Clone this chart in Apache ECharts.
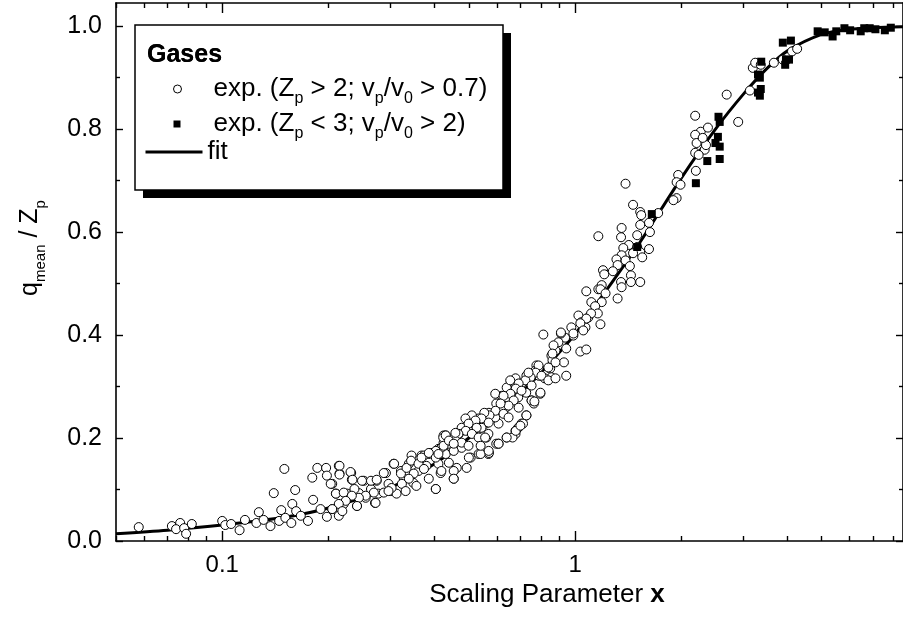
<!DOCTYPE html>
<html>
<head>
<meta charset="utf-8">
<script src="https://cdn.jsdelivr.net/npm/echarts@6/dist/echarts.min.js"></script>
<style>
html,body{margin:0;padding:0;background:#fff;}
#chart{width:903px;height:619px;}
</style>
</head>
<body>
<div id="chart"></div>
<script>
// ---- Data ----
const openCircles = [
[0.058,0.027],[0.072,0.029],[0.076,0.035],[0.074,0.023],[0.078,0.025],[0.079,0.014],[0.082,0.033],[0.100,0.039],[0.102,0.031],[0.106,0.033],
[0.112,0.021],[0.116,0.041],[0.125,0.035],[0.127,0.056],[0.131,0.041],[0.137,0.029],[0.140,0.093],[0.145,0.039],[0.147,0.060],[0.150,0.140],
[0.151,0.045],[0.157,0.035],[0.158,0.072],[0.161,0.099],[0.162,0.058],[0.167,0.049],[0.175,0.039],[0.180,0.123],[0.181,0.080],[0.186,0.142],
[0.190,0.062],[0.197,0.142],[0.198,0.127],[0.198,0.047],[0.205,0.111],[0.205,0.062],[0.210,0.092],[0.214,0.146],[0.215,0.131],[0.214,0.049],
[0.221,0.072],[0.226,0.092],[0.232,0.132],[0.233,0.119],[0.241,0.068],[0.244,0.093],[0.252,0.117],[0.255,0.084],[0.264,0.101],[0.271,0.074],
[0.274,0.117],[0.277,0.092],[0.291,0.132],[0.296,0.111],[0.300,0.097],[0.306,0.150],[0.312,0.092],[0.321,0.136],[0.327,0.121],[0.338,0.150],
[0.344,0.166],[0.348,0.113],[0.360,0.136],[0.367,0.166],[0.379,0.146],[0.390,0.171],[0.403,0.101],[0.410,0.150],[0.416,0.132],[0.424,0.205],
[0.430,0.169],[0.444,0.189],[0.453,0.121],[0.462,0.142],[0.468,0.210],[0.477,0.181],[0.493,0.142],[0.500,0.220],[0.506,0.162],[0.533,0.169],
[0.540,0.220],[0.561,0.201],[0.568,0.169],[0.598,0.189],[0.607,0.228],[0.640,0.201],[0.678,0.214],[0.705,0.228],
[1.076,0.485],[1.112,0.464],[1.164,0.489],[1.022,0.438],[1.042,0.425],[1.070,0.415],[1.090,0.434],[0.976,0.415],[0.989,0.399],[0.937,0.395],
[0.912,0.403],[0.813,0.401],[0.897,0.386],[0.944,0.374],[1.035,0.368],[1.076,0.372],[0.880,0.370],[0.857,0.360],[0.930,0.347],[0.944,0.321],
[0.863,0.351],[0.850,0.335],[0.857,0.318],[0.820,0.316],[0.777,0.341],[0.764,0.327],[0.789,0.321],[0.750,0.318],[0.797,0.286],[0.753,0.273],
[0.764,0.267],[0.728,0.244],[0.712,0.228],[0.690,0.220],[0.678,0.208],[0.665,0.201],[0.607,0.189],[0.570,0.171],[0.540,0.169],[0.500,0.162],
[0.705,0.306],[0.727,0.288],[0.678,0.302],[0.690,0.279],[0.660,0.286],[0.640,0.279],[0.636,0.259],[0.616,0.257],[0.598,0.267],[0.594,0.240],
[0.570,0.249],[0.558,0.228],[0.568,0.208],[0.543,0.220],[0.533,0.238],[0.510,0.244],[0.503,0.228],[0.500,0.214],[0.489,0.238],[0.477,0.220],
[0.468,0.208],[0.458,0.191],[0.448,0.181],[0.430,0.205],[0.424,0.191],[0.410,0.179],[0.397,0.171],[0.385,0.169],[0.373,0.166],[0.640,0.298],
[0.620,0.282],[0.594,0.286],[0.678,0.316],[0.655,0.312],[0.728,0.321],[0.772,0.331],[0.789,0.337],
[0.869,0.380],[0.863,0.364],[0.880,0.347],[0.840,0.337],[0.788,0.341],[0.773,0.327],[0.803,0.321],[0.748,0.318],[0.723,0.312],[0.738,0.327],
[0.692,0.306],[0.679,0.296],[0.705,0.292],[0.753,0.302],[0.798,0.288],[0.840,0.312],[0.880,0.316],[0.656,0.286],[0.627,0.282],[0.670,0.273],
[0.692,0.259],[0.648,0.263],[0.615,0.267],[0.595,0.253],[0.627,0.247],[0.648,0.240],[0.572,0.244],[0.553,0.249],[0.543,0.238],[0.569,0.230],
[0.522,0.234],[0.499,0.228],[0.526,0.220],[0.490,0.214],[0.510,0.208],[0.533,0.201],[0.556,0.201],[0.467,0.208],[0.458,0.195],[0.477,0.191],
[0.439,0.189],[0.423,0.201],[0.418,0.181],[0.403,0.175],[0.453,0.175],[0.499,0.185],[0.540,0.185],[0.569,0.175],[0.607,0.189],[0.640,0.201],
[0.679,0.214],[0.700,0.224],[0.728,0.244],[0.753,0.273],[0.767,0.271],
[0.215,0.146],[0.215,0.129],[0.231,0.134],[0.234,0.119],[0.203,0.111],[0.210,0.092],[0.221,0.094],[0.237,0.101],[0.249,0.117],[0.264,0.117],
[0.274,0.119],[0.287,0.132],[0.307,0.150],[0.321,0.131],[0.333,0.142],[0.343,0.156],[0.360,0.150],[0.367,0.162],[0.385,0.171],[0.403,0.162],
[0.410,0.169],[0.424,0.185],[0.430,0.205],[0.439,0.195],[0.453,0.189],[0.458,0.210],[0.439,0.152],[0.418,0.136],[0.453,0.136],[0.453,0.121],
[0.403,0.101],[0.349,0.131],[0.338,0.121],[0.323,0.111],[0.302,0.103],[0.287,0.094],[0.269,0.094],[0.255,0.088],[0.244,0.084],[0.233,0.088],
[0.224,0.078],[0.214,0.072],[0.205,0.062],[0.219,0.058],[0.241,0.068],[0.272,0.074],[0.296,0.097],[0.355,0.107],[0.385,0.121],[0.373,0.140],
[0.331,0.097],
[2.19,0.826],[2.90,0.814],[2.27,0.795],[2.38,0.803],[2.19,0.789],[2.21,0.773],[2.33,0.760],[2.19,0.754],[2.24,0.750],[2.35,0.769],
[2.20,0.719],[1.96,0.711],[1.94,0.697],[1.99,0.692],[1.94,0.666],[1.90,0.662],[1.39,0.694],[1.46,0.653],[1.53,0.639],[1.54,0.633],
[1.72,0.637],[1.62,0.618],[1.53,0.614],[1.63,0.600],[1.355,0.608],[1.35,0.590],[1.50,0.594],[1.164,0.592],[1.42,0.575],[1.50,0.571],
[1.62,0.567],[1.37,0.569],[1.355,0.555],[1.53,0.561],[1.46,0.559],[1.55,0.551],[1.39,0.545],[1.31,0.547],[1.32,0.536],[1.43,0.534],
[1.28,0.524],[1.20,0.526],[1.21,0.518],[1.44,0.516],[1.44,0.503],[1.53,0.503],[1.35,0.503],[1.355,0.493],[1.19,0.497],[1.18,0.489],
[1.22,0.481],[1.32,0.471],[1.19,0.464],[1.14,0.456],[1.16,0.442],[1.11,0.442],[1.076,0.432],[1.18,0.421],[1.035,0.423],[1.055,0.409],
[0.912,0.405],[0.989,0.403],
[2.69,0.867],[3.13,0.875],[3.19,0.919],[3.24,0.929],[3.36,0.925],[3.66,0.929],[3.88,0.935],[4.12,0.951],[4.26,0.956],[2.30,0.783]
];
const filledSquares = [
[2.55,0.824],[2.57,0.814],[2.54,0.785],[2.50,0.773],[2.57,0.766],[2.37,0.738],[2.57,0.742],[2.20,0.695],[1.65,0.635],[1.50,0.571],
[3.30,0.871],[3.36,0.878],[3.34,0.865],[3.30,0.906],[3.34,0.900],[3.37,0.931],[3.88,0.968],[3.96,0.935],[4.04,0.935],[3.94,0.925],
[4.09,0.972],[4.87,0.990],[5.10,0.988],[5.37,0.980],[5.50,0.990],[5.80,0.996],[6.02,0.992],[6.45,0.990],[6.60,0.996],[6.84,0.996],
[7.10,0.994],[7.55,0.992],[7.85,0.997]
];
const fitX = [0.05,0.07,0.1,0.15,0.2,0.3,0.4,0.5,0.6,0.7,0.8,1.0,1.2,1.5,2.0,2.5,3.0,3.5,4.0,5.0,6.0,7.0,8.5];
const fitY = [0.014,0.021,0.031,0.046,0.064,0.104,0.150,0.200,0.245,0.287,0.327,0.402,0.478,0.572,0.705,0.800,0.868,0.918,0.952,0.984,0.994,0.997,0.999];

const xMajorTicks = [0.1, 1];
const xMajorLabels = ['0.1', '1'];
const xMinorTicks = [0.05,0.06,0.07,0.08,0.09,0.2,0.3,0.4,0.5,0.6,0.7,0.8,0.9,2,3,4,5,6,7,8];
const yMajorTicks = [0, 0.2, 0.4, 0.6, 0.8, 1.0];
const yMajorLabels = ['0.0', '0.2', '0.4', '0.6', '0.8', '1.0'];
const yMinorTicks = [0.1, 0.3, 0.5, 0.7, 0.9];
const xRange = [0.05, 8.5];
const yRange = [0, 1.045];

// ---- Chart ----
const FONT = 'Liberation Sans, Arial, Helvetica, sans-serif';
const lg = v => Math.log10(v);
const xMin = lg(xRange[0]), xMax = lg(xRange[1]);
const xMajorLog = xMajorTicks.map(lg);
const xMinorLog = xMinorTicks.map(lg);

function xLabel(v) {
  for (let i = 0; i < xMajorLog.length; i++) if (Math.abs(xMajorLog[i] - v) < 1e-6) return xMajorLabels[i];
  return '';
}
function yLabel(v) {
  for (let i = 0; i < yMajorTicks.length; i++) if (Math.abs(yMajorTicks[i] - v) < 1e-6) return yMajorLabels[i];
  return '';
}

const lineCol = '#000';
function xAx(pos, ticks, len, showLine, labels, extra) {
  return Object.assign({
    type: 'value', min: xMin, max: xMax, position: pos, gridIndex: 0,
    axisLine: {show: showLine, onZero: false, lineStyle: {color: lineCol, width: 1.6}},
    axisTick: {show: true, inside: true, length: len, customValues: ticks, lineStyle: {color: lineCol, width: 1.4}},
    axisLabel: labels ? {show: true, customValues: ticks, formatter: xLabel, fontSize: 24, color: '#000', fontFamily: FONT, margin: 12} : {show: false},
    splitLine: {show: false}
  }, extra || {});
}
function yAx(pos, ticks, len, showLine, labels, extra) {
  return Object.assign({
    type: 'value', min: yRange[0], max: yRange[1], position: pos, gridIndex: 0,
    axisLine: {show: showLine, onZero: false, lineStyle: {color: lineCol, width: 1.6}},
    axisTick: {show: true, inside: true, length: len, customValues: ticks, lineStyle: {color: lineCol, width: 1.4}},
    axisLabel: labels ? {show: true, customValues: ticks, formatter: yLabel, fontSize: 25, color: '#000', fontFamily: FONT, margin: 14} : {show: false},
    splitLine: {show: false}
  }, extra || {});
}

// legend box (drawn by two title components: shadowed fill + border)
const boxTitle = {
  text: 'Gases', left: 135, top: 25, padding: [11, 12, 0, 12],
  textStyle: {fontSize: 25, fontWeight: 'bold', color: '#000', fontFamily: FONT, width: 344, height: 154, lineHeight: 38}
};

const ICON_CIRCLE = 'path://M0,0M57,9M28,4.5a4,4 0 1,0 8,0a4,4 0 1,0 -8,0z';
const ICON_SQUARE = 'path://M0,0M57,9M28,1h7v7h-7z';
const ICON_LINE = 'path://M0,0M57,9M0,3h57v3h-57z';

const chart = echarts.init(document.getElementById('chart'), null, {renderer: 'canvas'});
chart.setOption({
  animation: false,
  backgroundColor: '#fff',
  textStyle: {fontFamily: FONT},
  grid: {left: 116, right: -2, top: 3, bottom: 78, containLabel: false},
  title: [
    Object.assign({}, boxTitle, {
      z: 5, backgroundColor: '#fff', borderWidth: 0,
      shadowColor: '#000', shadowOffsetX: 8, shadowOffsetY: 8, shadowBlur: 0
    }),
    Object.assign({}, boxTitle, {
      z: 7, backgroundColor: 'transparent', borderColor: '#000', borderWidth: 1.5
    })
  ],
  legend: {
    orient: 'vertical', left: 135, top: 25, z: 6,
    padding: [44, 0, 0, 10],
    itemWidth: 57, itemHeight: 9, itemGap: -5,
    selectedMode: false,
    textStyle: {
      fontSize: 26, color: '#000', fontFamily: FONT,
      rich: {s: {fontSize: 16, lineHeight: 16, color: '#000', fontFamily: FONT, padding: [20, 0, 0, 0]}}
    },
    data: [
      {name: 'exp1', icon: ICON_CIRCLE, itemStyle: {color: '#fff', borderColor: '#000', borderWidth: 1},
       textStyle: {lineHeight: 40, padding: [0, 0, 0, 6]}},
      {name: 'exp2', icon: ICON_SQUARE, itemStyle: {color: '#000', borderWidth: 0},
       textStyle: {lineHeight: 40, padding: [0, 0, 0, 6]}},
      {name: 'fit', icon: ICON_LINE, itemStyle: {color: '#000', borderWidth: 0},
       textStyle: {lineHeight: 16}}
    ],
    formatter: function (name) {
      if (name === 'exp1') return 'exp. (Z{s|p} > 2; v{s|p}/v{s|0} > 0.7)';
      if (name === 'exp2') return 'exp. (Z{s|p} < 3; v{s|p}/v{s|0} > 2)';
      return 'fit';
    }
  },
  xAxis: [
    xAx('bottom', xMajorLog, 10, true, true, {
      name: '{n|Scaling Parameter }{b|x}', nameLocation: 'middle', nameGap: 36,
      nameTextStyle: {padding: [0, 0, 0, 75], rich: {
        n: {fontSize: 26, color: '#000', fontFamily: FONT},
        b: {fontSize: 26, color: '#000', fontFamily: FONT, fontWeight: 'bold'}
      }}
    }),
    xAx('bottom', xMinorLog, 5, false, false),
    xAx('top', xMajorLog, 10, true, false),
    xAx('top', xMinorLog, 5, false, false)
  ],
  yAxis: [
    yAx('left', yMajorTicks, 7, true, true, {
      name: '{n|q}{s|mean}{n| / Z}{s|p}', nameLocation: 'middle', nameGap: 68, nameRotate: 90,
      nameTextStyle: {padding: [0, 0, 0, 48], rich: {
        n: {fontSize: 25, color: '#000', fontFamily: FONT},
        s: {fontSize: 15, color: '#000', fontFamily: FONT, padding: [20, 0, 0, 0]}
      }}
    }),
    yAx('left', yMinorTicks, 4, false, false),
    yAx('right', yMajorTicks, 7, true, false),
    yAx('right', yMinorTicks, 4, false, false)
  ],
  series: [
    {
      name: 'fit', type: 'line', xAxisIndex: 0, yAxisIndex: 0,
      data: fitX.map((x, i) => [lg(x), fitY[i]]),
      showSymbol: false, symbol: 'none', smooth: 0.3,
      lineStyle: {color: '#000', width: 3}, itemStyle: {color: '#000'}, z: 2
    },
    {
      name: 'exp1', type: 'scatter', xAxisIndex: 0, yAxisIndex: 0,
      data: openCircles.map(p => [lg(p[0]), p[1]]),
      symbol: 'circle', symbolSize: 9,
      itemStyle: {color: '#fff', borderColor: '#000', borderWidth: 1, opacity: 1}, z: 3
    },
    {
      name: 'exp2', type: 'scatter', xAxisIndex: 0, yAxisIndex: 0,
      data: filledSquares.map(p => [lg(p[0]), p[1]]),
      symbol: 'rect', symbolSize: 8,
      itemStyle: {color: '#000', opacity: 1}, z: 4
    }
  ]
});
</script>
</body>
</html>
